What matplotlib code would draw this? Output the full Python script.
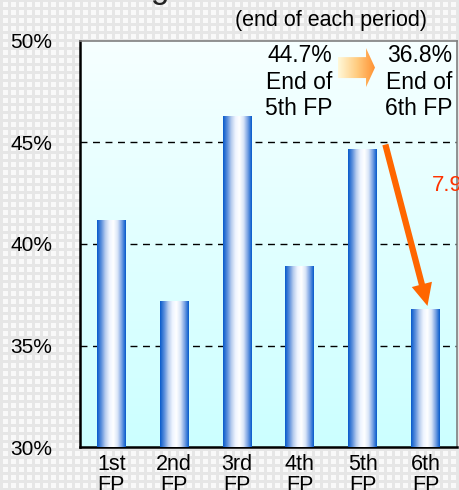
import matplotlib

matplotlib.use("Agg")
import matplotlib.pyplot as plt
import numpy as np
from matplotlib.colors import LinearSegmentedColormap
from matplotlib.patches import FancyArrow

plt.rcParams["font.family"] = ["Liberation Sans", "DejaVu Sans"]

periodos = ["1st\nFP", "2nd\nFP", "3rd\nFP", "4th\nFP", "5th\nFP", "6th\nFP"]
valores = [41.2, 37.2, 46.3, 38.9, 44.7, 36.8]
ticks_y = [30, 35, 40, 45, 50]
rotulo_antes = "44.7%\nEnd of\n5th FP"
rotulo_depois = "36.8%\nEnd of\n6th FP"
reducao = "7.9pt"

W, H = 459, 490
fig = plt.figure(figsize=(W / 100, H / 100), dpi=100)

# fundo quadriculado cinza claro
fundo = fig.add_axes([0, 0, 1, 1], zorder=-10)
ii = np.arange(H)[:, None] % 8
jj = np.arange(W)[None, :] % 8
linha = (ii < 3) | (jj < 3)
img = np.where(linha, 0.90, 0.975)
fundo.imshow(img, cmap="gray", vmin=0, vmax=1, aspect="auto", interpolation="nearest")
fundo.axis("off")

# título cortado no topo
fig.text(0.155, 1.004, "Changes", fontsize=24, color="#222222", ha="left", va="baseline")
fig.text(0.93, 0.958, "(end of each period)", fontsize=15.5, ha="right", va="center")

ax = fig.add_axes([80 / W, 43 / H, 377 / W, 406 / H])
ax.set_xlim(-0.5, 5.5)
ax.set_ylim(30, 50)

# gradiente do fundo da área do gráfico
grad_fundo = LinearSegmentedColormap.from_list("fundo", ["#ccffff", "#f6ffff"])
ax.imshow(np.linspace(0, 1, 100)[:, None], cmap=grad_fundo, aspect="auto",
          extent=(-0.5, 5.5, 30, 50), origin="lower", zorder=0)

x = np.arange(len(valores))
barras = ax.bar(x, [v - 30 for v in valores], bottom=30, width=0.46,
                facecolor="none", edgecolor="none", zorder=3)
cilindro = LinearSegmentedColormap.from_list(
    "cil", ["#0a5ccc", "#5b8fdc", "#b8cdee", "#eef4ff", "#ffffff", "#d9e5f8", "#7aa3e4", "#0a5ccc"])
faixa = np.linspace(0, 1, 60)[None, :]
for b in barras:
    x0, y0 = b.get_x(), b.get_y()
    im = ax.imshow(faixa, cmap=cilindro, aspect="auto", interpolation="bilinear",
                   extent=(x0, x0 + b.get_width(), y0, y0 + b.get_height()), zorder=3)
    im.set_clip_path(b)

for y in ticks_y[1:-1]:
    ax.axhline(y, color="black", lw=1, ls=(0, (5, 4)), zorder=2)

ax.set_xticks(x)
ax.set_xticklabels(periodos, fontsize=15.5, linespacing=1.0)
ax.set_yticks(ticks_y)
ax.set_yticklabels([f"{t}%" for t in ticks_y], fontsize=15)
ax.tick_params(length=0)
ax.tick_params(axis="y", pad=20)
ax.tick_params(axis="x", pad=5)
for lado in ("left", "bottom"):
    ax.spines[lado].set_linewidth(1.8)
    ax.spines[lado].set_color("black")
for lado in ("top", "right"):
    ax.spines[lado].set_color("#808080")
    ax.spines[lado].set_linewidth(1.2)

ax.text(3.52, 49.85, rotulo_antes, ha="right", va="top", fontsize=16.5, linespacing=1.2, zorder=5)
ax.text(5.43, 49.85, rotulo_depois, ha="right", va="top", fontsize=16.5, linespacing=1.2, zorder=5)

# seta pequena com degradê entre os rótulos
seta = FancyArrow(3.606, 48.69, 0.589, 0, width=1.03, head_width=1.92, head_length=0.143,
                  length_includes_head=True, facecolor="none", edgecolor="none", zorder=4)
ax.add_patch(seta)
grad_seta = LinearSegmentedColormap.from_list("seta", ["#fff8d8", "#ffcc80", "#ff9030"])
im = ax.imshow(np.linspace(0, 1, 50)[None, :], cmap=grad_seta, aspect="auto",
               extent=(3.606, 4.195, 47.6, 49.7), zorder=4)
im.set_clip_path(seta)

# seta laranja da queda
ax.annotate("", xy=(5.03, 36.95), xytext=(4.36, 44.9),
            arrowprops=dict(arrowstyle="simple,head_length=1.6,head_width=1.5,tail_width=0.45",
                            color="#ff6600", lw=0, shrinkA=0, shrinkB=0), zorder=6)

ax.text(5.1, 42.9, reducao, color="#ff3300", fontsize=16, ha="left", va="center",
        clip_on=False, zorder=6)

fig.savefig("out.png", dpi=100)
